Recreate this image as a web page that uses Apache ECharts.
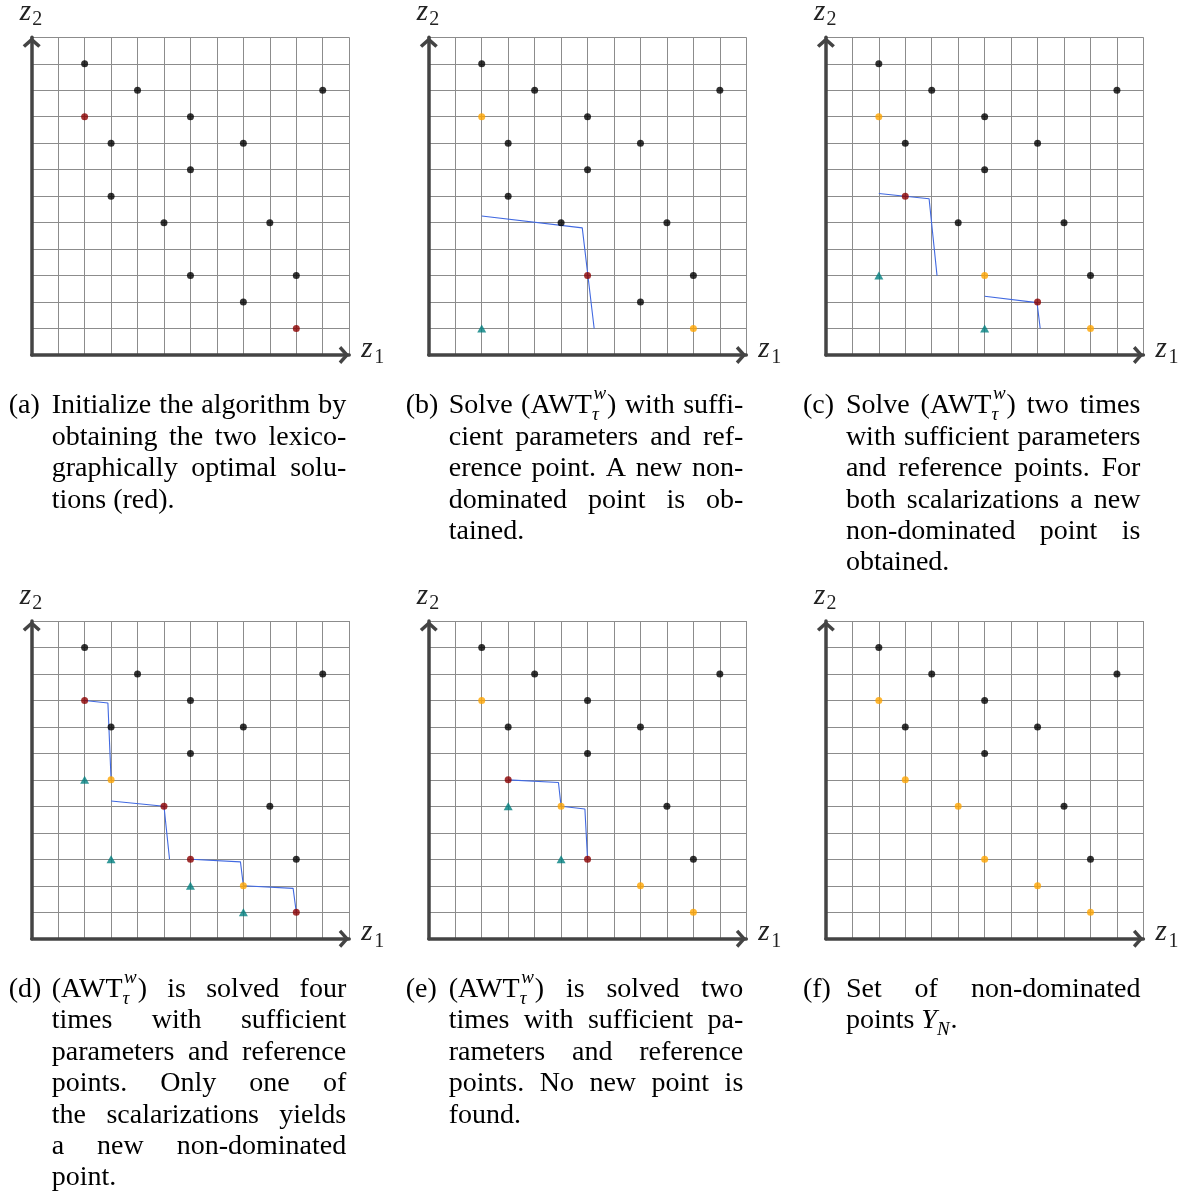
<!DOCTYPE html>
<html><head><meta charset="utf-8">
<script src="https://cdn.jsdelivr.net/npm/echarts@6/dist/echarts.min.js"></script>
<style>html,body{margin:0;padding:0;background:#fff}#chart{width:1189px;height:1193px}</style>
</head><body><div id="chart"></div>
<script>
// ---------------- DATA ----------------
const axisMin = 0, axisMax = 12, axisStep = 1;
const allPoints = [[2,11],[4,10],[11,10],[2,9],[6,9],[3,8],[8,8],[6,7],[3,6],[5,5],[9,5],[6,3],[10,3],[8,2],[10,1]];

const redA = [[2,9],[10,1]];
const orangeA = [];
const tealA = [];

const redB = [[6,3]];
const orangeB = [[2,9],[10,1]];
const tealB = [[2,1]];
const lineB1 = [[2,5.25],[5.8,4.8],[6.25,1]];

const redC = [[3,6],[8,2]];
const orangeC = [[2,9],[6,3],[10,1]];
const tealC = [[2,3],[6,1]];
const lineC1 = [[2,6.1],[3.9,5.9],[4.2,3]];
const lineC2 = [[6,2.22],[7.98,1.98],[8.1,1]];

const redD = [[2,9],[5,5],[6,3],[10,1]];
const orangeD = [[3,6],[8,2]];
const tealD = [[2,6],[3,3],[6,2],[8,1]];
const lineD1 = [[2,9],[2.88,8.9],[3,6]];
const lineD2 = [[3,5.2],[5,5],[5.21,3]];
const lineD3 = [[6,3],[7.89,2.9],[8,2]];
const lineD4 = [[8,2],[9.88,1.9],[10,1]];

const redE = [[3,6],[6,3]];
const orangeE = [[2,9],[5,5],[8,2],[10,1]];
const tealE = [[3,5],[5,3]];
const lineE1 = [[3,6],[4.9,5.9],[5,5]];
const lineE2 = [[5,5],[5.9,4.9],[6,3]];

const redF = [];
const orangeF = [[2,9],[3,6],[5,5],[6,3],[8,2],[10,1]];
const tealF = [];

const labelsCaption = ['(a)','(b)','(c)','(d)','(e)','(f)'];
const captionA = ['Initialize the algorithm by','obtaining the two lexico-','graphically optimal solu-','tions (red).'];
const captionB = ['Solve (AWT[w|τ]) with suffi-','cient parameters and ref-','erence point. A new non-','dominated point is ob-','tained.'];
const captionC = ['Solve (AWT[w|τ]) two times','with sufficient parameters','and reference points. For','both scalarizations a new','non-dominated point is','obtained.'];
const captionD = ['(AWT[w|τ]) is solved four','times with sufficient','parameters and reference','points. Only one of','the scalarizations yields','a new non-dominated','point.'];
const captionE = ['(AWT[w|τ]) is solved two','times with sufficient pa-','rameters and reference','points. No new point is','found.'];
const captionF = ['Set of non-dominated','points <Y>[|N].'];

// ---------------- LAYOUT ----------------
const PANEL_LEFTS = [31.7, 428.8, 825.9];
const PANEL_TOPS = [37.3, 621];
const GW = 317.5, GH = 317.7;
const panelBox = i => ({L: PANEL_LEFTS[i % 3], T: PANEL_TOPS[Math.floor(i / 3)]});

const panels = [
  {red: redA, orange: orangeA, teal: tealA, lines: [], caption: captionA},
  {red: redB, orange: orangeB, teal: tealB, lines: [lineB1], caption: captionB},
  {red: redC, orange: orangeC, teal: tealC, lines: [lineC1, lineC2], caption: captionC},
  {red: redD, orange: orangeD, teal: tealD, lines: [lineD1, lineD2, lineD3, lineD4], caption: captionD},
  {red: redE, orange: orangeE, teal: tealE, lines: [lineE1, lineE2], caption: captionE},
  {red: redF, orange: orangeF, teal: tealF, lines: [], caption: captionF}
];

const COL_BLACK = '#000000', COL_RED = '#8b0000', COL_ORANGE = '#ffa500', COL_TEAL = '#008080', COL_BLUE = '#4169e1';
const GRID_COL = '#8c8c8c', AXIS_COL = '#444444';
const chevron = 'path://M9,0 L18,8 L15.6,10.5 L9,4.6 L2.4,10.5 L0,8 Z';

// ---------------- TEXT HELPERS ----------------
const FAMILY = '"Liberation Serif", "Times New Roman", serif';
const FS = 28, SFS = 19;
const mctx = document.createElement('canvas').getContext('2d');
function fnt(size, italic) { return (italic ? 'italic ' : '') + size + 'px ' + FAMILY; }
function mw(t, f) { mctx.font = f; mctx.textBaseline = 'alphabetic'; return mctx.measureText(t).width; }
const offCache = {};
function baseOff(f) {
  if (offCache[f] !== undefined) return offCache[f];
  mctx.font = f; mctx.textBaseline = 'middle';
  const d = mctx.measureText('H').actualBoundingBoxDescent;
  mctx.textBaseline = 'alphabetic';
  offCache[f] = d; return d;
}
const graphics = [];
function addText(text, x, baseline, font, fill) {
  graphics.push({
    type: 'text', x: x, y: baseline - baseOff(font), silent: true, z: 10,
    style: {text: text, font: font, fill: fill || '#000',
      textAlign: 'left', textVerticalAlign: 'middle', align: 'left', verticalAlign: 'middle'}
  });
}
function parseWord(word) {
  const parts = []; let x = 0;
  const re = /<([^>]*)>|\[([^|\]]*)\|([^\]]*)\]|([^<\[]+)/g;
  let m;
  while ((m = re.exec(word))) {
    if (m[1] !== undefined) {
      const f = fnt(FS, true); parts.push({text: m[1], font: f, x: x, dy: 0}); x += mw(m[1], f);
    } else if (m[2] !== undefined) {
      let wmax = 0;
      const f = fnt(SFS, true);
      if (m[2]) { const w = mw(m[2], f); parts.push({text: m[2], font: f, x: x + 1.5, dy: -14}); wmax = Math.max(wmax, w + 1.5); }
      if (m[3]) { const w = mw(m[3], f); parts.push({text: m[3], font: f, x: x, dy: 7}); wmax = Math.max(wmax, w); }
      x += wmax + 1;
    } else {
      const f = fnt(FS, false); parts.push({text: m[4], font: f, x: x, dy: 0}); x += mw(m[4], f);
    }
  }
  return {parts: parts, width: x};
}

function layoutCaption(i) {
  const {L, T} = panelBox(i);
  const B = T + GH;
  const left = L + 20, right = L + 314.5, colW = right - left;
  const base0 = B + 58.3, lh = 31.4;
  addText(labelsCaption[i], L - 23, base0, fnt(FS, false));
  const lines = panels[i].caption;
  lines.forEach((line, li) => {
    const words = line.split(' ').map(parseWord);
    const total = words.reduce((s, w) => s + w.width, 0);
    const isLast = li === lines.length - 1;
    const gap = (isLast || words.length < 2) ? mw(' ', fnt(FS, false)) : (colW - total) / (words.length - 1);
    let x = left;
    const y = base0 + li * lh;
    words.forEach(w => {
      w.parts.forEach(pt => addText(pt.text, x + pt.x, y + pt.dy, pt.font));
      x += w.width + gap;
    });
  });
}
function axisNames(i) {
  const {L, T} = panelBox(i); const B = T + GH, R = L + GW;
  addText('z', L - 12, T - 17.3, fnt(29, true), '#222');
  addText('2', L + 0.5, T - 12.3, fnt(20, false), '#222');
  addText('z', R + 12, B + 1.7, fnt(29, true), '#222');
  addText('1', R + 25, B + 8.3, fnt(20, false), '#222');
}

// ---------------- OPTION ----------------
const grids = [], xAxes = [], yAxes = [], series = [];
const key = p => p[0] + ',' + p[1];
panels.forEach((p, i) => {
  const {L, T} = panelBox(i);
  grids.push({left: L, top: T, width: GW, height: GH, show: false, containLabel: false, outerBoundsMode: 'none'});
  const axisCommon = {
    gridIndex: i, type: 'value', min: axisMin, max: axisMax, interval: axisStep,
    axisLabel: {show: false}, axisTick: {show: false},
    splitLine: {show: true, showMinLine: true, showMaxLine: true, lineStyle: {color: GRID_COL, width: 1}},
    axisLine: {show: true, onZero: false, symbol: ['none', chevron], symbolSize: [18, 10.5], symbolOffset: [0, -5.25],
      lineStyle: {color: AXIS_COL, width: 3.5}}
  };
  xAxes.push(Object.assign({}, axisCommon));
  yAxes.push(Object.assign({}, axisCommon));
  p.lines.forEach(l => series.push({type: 'line', xAxisIndex: i, yAxisIndex: i, data: l, symbol: 'none', showSymbol: false,
    lineStyle: {color: COL_BLUE, width: 1.1}, z: 3, silent: true}));
  const colored = new Set([].concat(p.red, p.orange).map(key));
  const black = allPoints.filter(q => !colored.has(key(q)));
  series.push({type: 'scatter', xAxisIndex: i, yAxisIndex: i, data: black, symbol: 'circle', symbolSize: 7, itemStyle: {color: COL_BLACK}, z: 4, silent: true});
  if (p.teal.length) series.push({type: 'scatter', xAxisIndex: i, yAxisIndex: i, data: p.teal, symbol: 'triangle', symbolSize: [9, 8], itemStyle: {color: COL_TEAL}, z: 4, silent: true});
  if (p.red.length) series.push({type: 'scatter', xAxisIndex: i, yAxisIndex: i, data: p.red, symbol: 'circle', symbolSize: 7, itemStyle: {color: COL_RED}, z: 5, silent: true});
  if (p.orange.length) series.push({type: 'scatter', xAxisIndex: i, yAxisIndex: i, data: p.orange, symbol: 'circle', symbolSize: 7, itemStyle: {color: COL_ORANGE}, z: 5, silent: true});
  layoutCaption(i);
  axisNames(i);
});

const chart = echarts.init(document.getElementById('chart'), null, {renderer: 'canvas', width: 1189, height: 1193});
chart.setOption({
  animation: false,
  backgroundColor: '#ffffff',
  grid: grids, xAxis: xAxes, yAxis: yAxes, series: series,
  graphic: graphics
});
</script></body></html>
